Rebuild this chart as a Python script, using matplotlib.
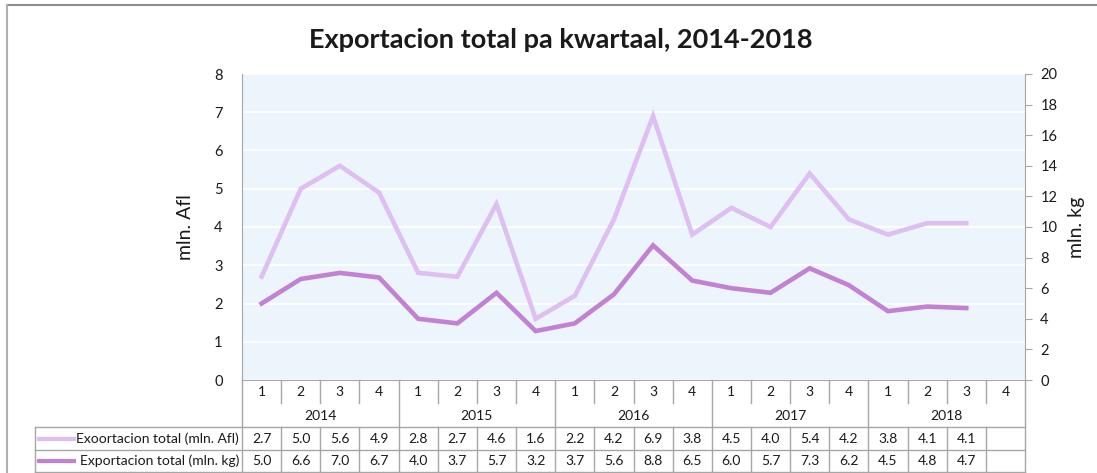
import numpy as np
import matplotlib.pyplot as plt

plt.rcParams['font.family'] = ['Lato', 'DejaVu Sans']

years = ['2014', '2015', '2016', '2017', '2018']
quarters = ['1', '2', '3', '4']
afl = [2.7, 5.0, 5.6, 4.9, 2.8, 2.7, 4.6, 1.6, 2.2, 4.2, 6.9, 3.8,
       4.5, 4.0, 5.4, 4.2, 3.8, 4.1, 4.1, np.nan]
kg = [5.0, 6.6, 7.0, 6.7, 4.0, 3.7, 5.7, 3.2, 3.7, 5.6, 8.8, 6.5,
      6.0, 5.7, 7.3, 6.2, 4.5, 4.8, 4.7, np.nan]
label_afl = 'Exoortacion total (mln. Afl)'
label_kg = 'Exportacion total (mln. kg)'
title = 'Exportacion total pa kwartaal, 2014-2018'

c_afl = '#DFBEF4'
c_kg = '#C281D4'
c_grid = '#A6A6A6'
txt_c = '#1A1A1A'

W, H = 1097, 473
L, R, T, B = 242, 1025, 74, 380  # plot area in pixels
n = len(afl)
cw = (R - L) / n

fig = plt.figure(figsize=(W / 100, H / 100), dpi=100)
ax = fig.add_axes([L / W, (H - B) / H, (R - L) / W, (B - T) / H])
ax.set_facecolor('#EBF5FB')
x = np.arange(n)
ax.plot(x, afl, color=c_afl, lw=3.3, solid_joinstyle='miter', zorder=3)
ax.set_xlim(-0.5, n - 0.5)
ax.set_ylim(0, 8)
ax.set_yticks(range(0, 9))
ax.set_xticks([])
ax.grid(axis='y', color='white', lw=1.2)
ax.set_axisbelow(True)
ax.tick_params(axis='y', length=0, pad=14, labelsize=10.5, labelcolor=txt_c)
for s in ['top', 'right']:
    ax.spines[s].set_visible(False)
for s in ['left', 'bottom']:
    ax.spines[s].set_color(c_grid)
ax.set_ylabel('mln. Afl', fontsize=14, labelpad=14, color=txt_c)

ax2 = ax.twinx()
ax2.plot(x, kg, color=c_kg, lw=3.3, solid_joinstyle='miter', zorder=3)
ax2.set_ylim(0, 20)
ax2.set_yticks(range(0, 21, 2))
ax2.tick_params(axis='y', length=5, color=c_grid, pad=6, labelsize=10.5, labelcolor=txt_c)
for s in ['top', 'left', 'bottom']:
    ax2.spines[s].set_visible(False)
ax2.spines['right'].set_color(c_grid)
ax2.set_ylabel('mln. kg', fontsize=14, labelpad=8, color=txt_c)

fig.text(0.511, 1 - 40 / H, title, ha='center', va='center', fontsize=19.5,
         fontweight='bold', color=txt_c)

# overlay in pixel coordinates for the data table and frame
ov = fig.add_axes([0, 0, 1, 1])
ov.set_xlim(0, W)
ov.set_ylim(H, 0)
ov.axis('off')
ov.patch.set_visible(False)

# frame of the chart
ov.plot([7, W], [5, 5], color='#8C8C8C', lw=1.5)
ov.plot([7, 7], [5, H], color='#B0B0B0', lw=1.5)

y_q, y_y, y_r1, y_r2, y_end = B, 404, 427, 450, 472
lx = 35
kw = dict(color=c_grid, lw=1)
for yy in [y_r1, y_r2, y_end]:
    ov.plot([lx, R], [yy, yy], **kw)
ov.plot([lx, lx], [y_r1, y_end], **kw)
for i in range(n + 1):
    xx = L + i * cw
    if i % 4 == 0:
        ov.plot([xx, xx], [y_q, y_end], **kw)
    else:
        ov.plot([xx, xx], [y_q, y_y - 1], **kw)
        ov.plot([xx, xx], [y_r1, y_end], **kw)

fs = 10
for i in range(n):
    xc = L + (i + 0.5) * cw
    ov.text(xc, (y_q + y_y) / 2, quarters[i % 4], ha='center', va='center', fontsize=fs, color=txt_c)
    if not np.isnan(afl[i]):
        ov.text(xc, (y_r1 + y_r2) / 2, f'{afl[i]:.1f}', ha='center', va='center', fontsize=fs, color=txt_c)
    if not np.isnan(kg[i]):
        ov.text(xc, (y_r2 + y_end) / 2, f'{kg[i]:.1f}', ha='center', va='center', fontsize=fs, color=txt_c)
for k, yr in enumerate(years):
    xc = L + (4 * k + 2) * cw
    ov.text(xc, (y_y + y_r1) / 2, yr, ha='center', va='center', fontsize=fs, color=txt_c)

for (yy0, yy1), lab, col in [((y_r1, y_r2), label_afl, c_afl), ((y_r2, y_end), label_kg, c_kg)]:
    yc = (yy0 + yy1) / 2
    ov.plot([39, 74], [yc, yc], color=col, lw=3)
    ov.text(L - 3, yc, lab, ha='right', va='center', fontsize=fs, color=txt_c)

fig.savefig('out.png', dpi=100)
